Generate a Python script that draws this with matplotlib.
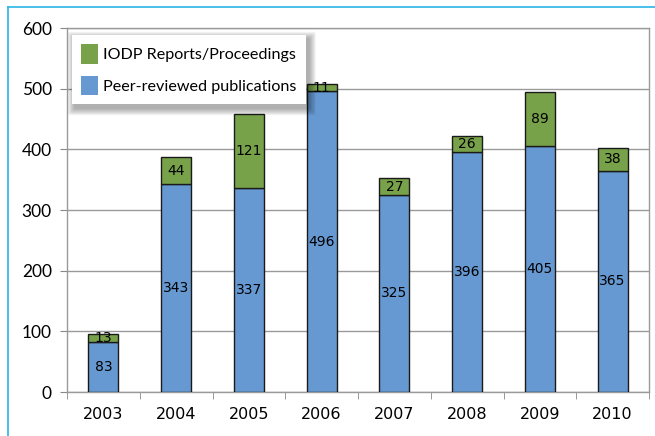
import matplotlib
matplotlib.use("Agg")
import matplotlib.pyplot as plt
import numpy as np
from matplotlib.lines import Line2D
from matplotlib.patches import FancyBboxPatch

years = ["2003", "2004", "2005", "2006", "2007", "2008", "2009", "2010"]
peer = [83, 343, 337, 496, 325, 396, 405, 365]
iodp = [13, 44, 121, 11, 27, 26, 89, 38]

blue = "#6699d2"
green = "#78a24a"

fig = plt.figure(figsize=(6.55, 4.36), dpi=100)
ax = fig.add_axes([67/655, 1-392/436, (649-67)/655, (392-28)/436])

x = np.arange(len(years))
w = 0.41
b1 = ax.bar(x, peer, w, color=blue, edgecolor="#1a1a1a", linewidth=1.0, zorder=3,
            label="Peer-reviewed publications")
b2 = ax.bar(x, iodp, w, bottom=peer, color=green, edgecolor="#1a1a1a", linewidth=1.0,
            zorder=3, label="IODP Reports/Proceedings")

for xi, p, q in zip(x, peer, iodp):
    ax.text(xi, p/2, str(p), ha="center", va="center", fontsize=10, family="DejaVu Sans", zorder=4)
    ax.text(xi, p + q/2, str(q), ha="center", va="center", fontsize=10, family="DejaVu Sans", zorder=4)

ax.set_xlim(-0.5, len(years)-0.5)
ax.set_ylim(0, 600)
ax.set_yticks(range(0, 601, 100))
ax.set_yticklabels([str(v) for v in range(0, 601, 100)], family="Lato", fontsize=12.5)
ax.set_xticks(x)
ax.set_xticklabels(years, family="DejaVu Sans", fontsize=11.5)
ax.tick_params(axis="x", length=0, pad=11)
ax.set_xticks(np.arange(-0.5, len(years)), minor=True)
ax.tick_params(axis="x", which="minor", length=5, color="#888888", direction="out")
ax.tick_params(axis="y", length=5, color="#888888", direction="out", pad=6)
ax.yaxis.grid(True, color="#9a9a9a", linewidth=1.0, zorder=0)
ax.set_axisbelow(True)
for s in ax.spines.values():
    s.set_color("#9a9a9a")
    s.set_linewidth(1.0)

handles = [b2, b1]
leg = fig.legend(handles=handles, labels=["IODP Reports/Proceedings", "Peer-reviewed publications"],
                 loc="upper left", bbox_to_anchor=(72/655, 1-35/436), frameon=True,
                 shadow=False, fancybox=False, prop={"family": "Lato", "size": 11.6},
                 handlelength=1.05, handleheight=1.5, handletextpad=0.35, borderpad=0.55,
                 labelspacing=0.75, borderaxespad=0)
leg.get_frame().set_edgecolor("white")
leg.get_frame().set_linewidth(0)
leg.get_frame().set_alpha(1)
leg.set_zorder(10)
for h in leg.legend_handles:
    h.set_edgecolor("none")

# soft shadow behind the legend
fig.canvas.draw()
bb = leg.get_window_extent().transformed(fig.transFigure.inverted())
W, H = 655.0, 436.0
for i in range(8):
    grow = (8 - i) * 0.9
    p = FancyBboxPatch((bb.x0 + (3 - grow) / W, bb.y0 - (4 + grow) / H),
                       bb.width + (2 * grow) / W, bb.height + (2 * grow) / H,
                       boxstyle="round,pad=0,rounding_size=0.004",
                       transform=fig.transFigure, facecolor="black",
                       edgecolor="none", alpha=0.045, zorder=9)
    fig.add_artist(p)

fig.add_artist(Line2D([8/655, 1], [1-7/436, 1-7/436], color="#29b6e8", linewidth=1.2))
fig.add_artist(Line2D([8/655, 8/655], [0, 1-7/436], color="#29b6e8", linewidth=1.2))

fig.savefig("out.png", dpi=100)
